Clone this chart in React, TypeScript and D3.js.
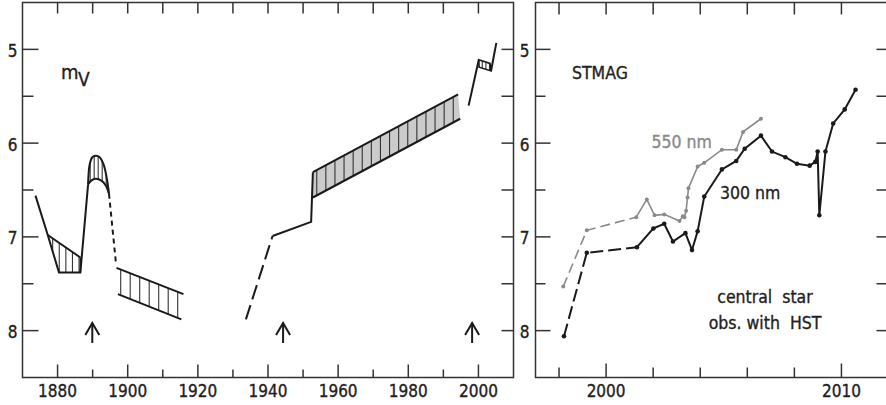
import React from "react";
import * as d3 from "d3";

const W = 886;
const H = 405;
const FONT = "'DejaVu Sans Condensed', 'Noto Sans', sans-serif";
const INK = "#1a1a1a";
const FRAME = "#333";
const TEXT = "#1f1f1f";

// Magnitude axis, shared by both panels
const magTicks = [5, 6, 7, 8];
const magMinorTicks = [5.5, 6.5, 7.5];

// Left panel: long-term visual light curve
const leftYearTicks = [1880, 1900, 1920, 1940, 1960, 1980, 2000];
const leftYearMinor = [1890, 1910, 1930, 1950, 1970, 1990];
const arrowYears = [1889.9, 1944.3, 1998.2];

const earlyYears = [1873.7, 1877.2, 1880.4, 1886.5, 1888.7];
const earlyMag = [6.56, 6.98, 7.38, 7.38, 6.44];

const bandAUpperYears = [1877.2, 1886.5];
const bandAUpperMag = [6.98, 7.22];
const bandALowerYears = [1877.2, 1880.4, 1886.5];
const bandALowerMag = [6.98, 7.38, 7.38];

const peakOuterYears = [1888.7, 1889.14, 1889.9, 1890.86, 1892.0, 1893.14, 1894.1, 1894.66];
const peakOuterMag = [6.44, 6.23, 6.15, 6.135, 6.15, 6.23, 6.39, 6.54];
const peakInnerYears = [1888.7, 1889.6, 1890.86, 1892.5, 1893.7, 1894.66];
const peakInnerMag = [6.44, 6.4, 6.38, 6.4, 6.45, 6.54];

const fadeYears = [1894.66, 1896.7];
const fadeMag = [6.54, 7.3];

const bandBUpperYears = [1896.8, 1915.9];
const bandBUpperMag = [7.33, 7.61];
const bandBLowerYears = [1897.2, 1915.3];
const bandBLowerMag = [7.61, 7.88];

const recoveryDashYears = [1933.7, 1941.3];
const recoveryDashMag = [7.88, 6.99];
const recoveryYears = [1941.3, 1952.3, 1952.8];
const recoveryMag = [6.99, 6.84, 6.31];

const bandCUpperYears = [1952.8, 1994.2];
const bandCUpperMag = [6.31, 5.48];
const bandCLowerYears = [1952.8, 1994.8];
const bandCLowerMag = [6.58, 5.74];

const lateYears = [1997.2, 2000.1];
const lateMag = [5.6, 5.11];
const bandDUpperYears = [2000.1, 2003.3];
const bandDUpperMag = [5.11, 5.15];
const bandDLowerYears = [2000.2, 2003.6];
const bandDLowerMag = [5.19, 5.23];
const latestYears = [2003.6, 2005.1];
const latestMag = [5.23, 4.93];

// Right panel: HST photometry of the central star
const rightYearTicks = [2000, 2010];
const rightYearMinor = [1998, 2002, 2004, 2006, 2008];

const uvYears = [1998.21, 1999.18, 2001.31, 2002.01, 2002.47, 2002.84, 2003.37, 2003.65, 2003.89, 2004.17, 2004.92, 2005.53, 2005.89, 2006.58, 2007.05, 2007.62, 2008.11, 2008.65, 2008.89, 2008.99, 2009.06, 2009.32, 2009.65, 2010.14, 2010.6];
const uvMag = [8.06, 7.17, 7.11, 6.91, 6.86, 7.05, 6.96, 7.14, 6.94, 6.57, 6.28, 6.19, 6.06, 5.92, 6.09, 6.15, 6.22, 6.24, 6.2, 6.09, 6.77, 6.09, 5.79, 5.64, 5.43];

const visYears = [1998.18, 1999.18, 2001.28, 2001.73, 2002.06, 2002.47, 2003.12, 2003.26, 2003.33, 2003.4, 2003.46, 2003.5, 2003.89, 2004.17, 2004.92, 2005.53, 2005.82, 2006.58];
const visMag = [7.53, 6.93, 6.79, 6.6, 6.77, 6.76, 6.83, 6.78, 6.79, 6.72, 6.58, 6.48, 6.25, 6.21, 6.07, 6.07, 5.88, 5.74];

// number of leading points joined by a dashed segment
const dashedLead = 3;

type Pt = [number, number];
const zip = (xs: number[], ys: number[]): Pt[] => xs.map((x, i) => [x, ys[i]]);

const xL = d3.scaleLinear().domain([1870, 2010]).range([22.5, 513.5]);
const xR = d3.scaleLinear().domain([1997, 2012]).range([535.5, 888.5]);
const y = d3.scaleLinear().domain([4.5, 8.5]).range([2.5, 377.5]);

const lineL = d3.line<Pt>().x((d) => xL(d[0])).y((d) => y(d[1]));
const archL = d3
  .line<Pt>()
  .x((d) => xL(d[0]))
  .y((d) => y(d[1]))
  .curve(d3.curveCatmullRom.alpha(0.5));
const lineR = d3.line<Pt>().x((d) => xR(d[0])).y((d) => y(d[1]));

// closed outline of a band, used to clip its hatching
function bandOutline(upper: Pt[], lower: Pt[], gen = lineL) {
  const a = gen(upper) as string;
  const b = (gen([...lower].reverse()) as string).replace(/^M/, "L");
  return a + b + "Z";
}

function Hatch({ id, outline, from, to, step, fill }: { id: string; outline: string; from: number; to: number; step: number; fill?: string }) {
  const xs = d3.range(xL(from), xL(to), step);
  return (
    <g>
      <clipPath id={id}>
        <path d={outline} />
      </clipPath>
      {fill && <path d={outline} fill={fill} stroke="none" />}
      <g clipPath={`url(#${id})`}>
        {xs.map((x, i) => (
          <line key={i} x1={x} x2={x} y1={0} y2={H} stroke="#333" strokeWidth={1.1} />
        ))}
      </g>
    </g>
  );
}

function Arrow({ x }: { x: number }) {
  const top = 323;
  return (
    <g stroke={INK} strokeWidth={2} fill="none">
      <line x1={x} x2={x} y1={top} y2={343} />
      <path d={`M${x - 7},${top + 12}L${x},${top}L${x + 7},${top + 12}`} />
    </g>
  );
}

function Frame({ x0, x1, majorY, minorY }: { x0: number; x1: number; majorY: number; minorY: number }) {
  const y0 = y.range()[0];
  const y1 = y.range()[1];
  return (
    <g stroke={FRAME} strokeWidth={1.5} fill="none">
      <rect x={x0} y={y0} width={x1 - x0} height={y1 - y0} />
      {magTicks.map((m) => (
        <g key={m}>
          <line x1={x0} x2={x0 + majorY} y1={y(m)} y2={y(m)} />
          <line x1={x1} x2={x1 - 12} y1={y(m)} y2={y(m)} />
        </g>
      ))}
      {magMinorTicks.map((m) => (
        <g key={m}>
          <line x1={x0} x2={x0 + minorY} y1={y(m)} y2={y(m)} />
          <line x1={x1} x2={x1 - 12} y1={y(m)} y2={y(m)} />
        </g>
      ))}
    </g>
  );
}

function XTicks({ scale, major, minor, bigLen, smallLen, topLen }: { scale: d3.ScaleLinear<number, number>; major: number[]; minor: number[]; bigLen: number; smallLen: number; topLen: number }) {
  const y0 = y.range()[0];
  const y1 = y.range()[1];
  return (
    <g stroke={FRAME} strokeWidth={1.5}>
      {major.map((v) => (
        <g key={v}>
          <line x1={scale(v)} x2={scale(v)} y1={y1} y2={y1 - bigLen} />
          <line x1={scale(v)} x2={scale(v)} y1={y0} y2={y0 + topLen} />
        </g>
      ))}
      {minor.map((v) => (
        <g key={v}>
          <line x1={scale(v)} x2={scale(v)} y1={y1} y2={y1 - smallLen} />
          <line x1={scale(v)} x2={scale(v)} y1={y0} y2={y0 + topLen} />
        </g>
      ))}
    </g>
  );
}

export default function App() {
  const solid = { fill: "none", stroke: INK, strokeWidth: 2, strokeLinejoin: "miter" as const };

  const bandA = bandOutline(zip(bandAUpperYears, bandAUpperMag), zip(bandALowerYears, bandALowerMag));
  const peak = bandOutline(zip(peakOuterYears, peakOuterMag), zip(peakInnerYears, peakInnerMag), archL);
  const bandB = bandOutline(zip(bandBUpperYears, bandBUpperMag), zip(bandBLowerYears, bandBLowerMag));
  const bandC = bandOutline(zip(bandCUpperYears, bandCUpperMag), zip(bandCLowerYears, bandCLowerMag));
  const bandD = bandOutline(zip(bandDUpperYears, bandDUpperMag), zip(bandDLowerYears, bandDLowerMag));

  const uv = zip(uvYears, uvMag);
  const vis = zip(visYears, visMag);
  const textStroke = { strokeWidth: 0.35 };

  return (
    <svg width={W} height={H} style={{ position: "absolute", left: 0, top: 0, background: "#fff" }} fontFamily={FONT}>
      <rect width={W} height={H} fill="#fff" />

      {/* ---------- left panel ---------- */}
      <Frame x0={xL.range()[0]} x1={xL.range()[1]} majorY={16} minorY={11} />
      <XTicks scale={xL} major={leftYearTicks} minor={leftYearMinor} bigLen={13} smallLen={8} topLen={11} />
      <g fontSize={17} fill={TEXT} stroke={TEXT} {...textStroke}>
        {leftYearTicks.map((v) => (
          <text key={v} x={xL(v)} y={396.5} textAnchor="middle">{v}</text>
        ))}
        {magTicks.map((m) => (
          <text key={m} x={17.5} y={y(m) + 7.5} textAnchor="end">{m}</text>
        ))}
      </g>
      <g fill={TEXT} stroke={TEXT} {...textStroke}>
        <text x={61} y={79} fontSize={20}>m</text>
        <text x={78} y={85.5} fontSize={19}>V</text>
      </g>

      <Hatch id="hA" outline={bandA} from={1878.6} to={1887} step={6.6} />
      <Hatch id="hP" outline={peak} from={1889.3} to={1894.6} step={4} />
      <Hatch id="hB" outline={bandB} from={1898.0} to={1915.6} step={9.5} />
      <Hatch id="hC" outline={bandC} from={1953.9} to={1994.6} step={9.1} fill="#cbcbcb" />
      <Hatch id="hD" outline={bandD} from={2001.1} to={2003.4} step={3.6} />

      <path d={lineL(zip(earlyYears, earlyMag)) as string} {...solid} />
      <path d={lineL(zip(bandAUpperYears, bandAUpperMag)) as string} {...solid} />
      <line x1={xL(1886.5)} x2={xL(1886.5)} y1={y(7.22)} y2={y(7.38)} stroke={INK} strokeWidth={1.6} />
      <path d={archL(zip(peakOuterYears, peakOuterMag)) as string} {...solid} />
      <path d={archL(zip(peakInnerYears, peakInnerMag)) as string} {...solid} />
      <path d={lineL(zip(fadeYears, fadeMag)) as string} {...solid} strokeDasharray="5 4" />
      <path d={lineL(zip(bandBUpperYears, bandBUpperMag)) as string} {...solid} />
      <path d={lineL(zip(bandBLowerYears, bandBLowerMag)) as string} {...solid} />
      <path d={lineL(zip(recoveryDashYears, recoveryDashMag)) as string} {...solid} strokeDasharray="15 6" />
      <path d={lineL(zip(recoveryYears, recoveryMag)) as string} {...solid} />
      <path d={lineL(zip(bandCUpperYears, bandCUpperMag)) as string} {...solid} />
      <path d={lineL(zip(bandCLowerYears, bandCLowerMag)) as string} {...solid} />
      <path d={lineL(zip(lateYears, lateMag)) as string} {...solid} />
      <path d={bandD} {...solid} strokeWidth={1.6} />
      <path d={lineL(zip(latestYears, latestMag)) as string} {...solid} />

      {arrowYears.map((v) => (
        <Arrow key={v} x={xL(v)} />
      ))}

      {/* ---------- right panel ---------- */}
      <Frame x0={xR.range()[0]} x1={xR.range()[1]} majorY={15} minorY={10} />
      <XTicks scale={xR} major={rightYearTicks} minor={rightYearMinor} bigLen={14} smallLen={10} topLen={12} />
      <g fontSize={17} fill={TEXT} stroke={TEXT} {...textStroke}>
        {rightYearTicks.map((v) => (
          <text key={v} x={xR(v)} y={396.5} textAnchor="middle">{v}</text>
        ))}
        {magTicks.map((m) => (
          <text key={m} x={529.5} y={y(m) + 7.5} textAnchor="end">{m}</text>
        ))}
      </g>

      <g fill="none" stroke="#8a8a8a" strokeWidth={1.6}>
        <path d={lineR(vis.slice(0, dashedLead)) as string} strokeDasharray="10 5" />
        <path d={lineR(vis.slice(dashedLead - 1)) as string} />
      </g>
      <g fill="#8a8a8a">
        {vis.map((d, i) => (
          <circle key={i} cx={xR(d[0])} cy={y(d[1])} r={2} />
        ))}
      </g>
      <g fill="none" stroke={INK} strokeWidth={2}>
        <path d={lineR(uv.slice(0, dashedLead)) as string} strokeDasharray="13 5" />
        <path d={lineR(uv.slice(dashedLead - 1)) as string} />
      </g>
      <g fill={INK}>
        {uv.map((d, i) => (
          <circle key={i} cx={xR(d[0])} cy={y(d[1])} r={2.3} />
        ))}
      </g>

      <g fontSize={17.5} {...textStroke}>
        <text x={572} y={79} fill={TEXT} stroke={TEXT}>STMAG</text>
        <text x={651.5} y={147.5} fill="#8a8a8a" stroke="#8a8a8a">550 nm</text>
        <text x={720} y={199} fill={TEXT} stroke={TEXT}>300 nm</text>
        <text x={765} y={303} fill={TEXT} stroke={TEXT} textAnchor="middle" style={{ whiteSpace: "pre" }}>central  star</text>
        <text x={765} y={328.5} fill={TEXT} stroke={TEXT} textAnchor="middle" style={{ whiteSpace: "pre" }}>obs. with  HST</text>
      </g>
    </svg>
  );
}
